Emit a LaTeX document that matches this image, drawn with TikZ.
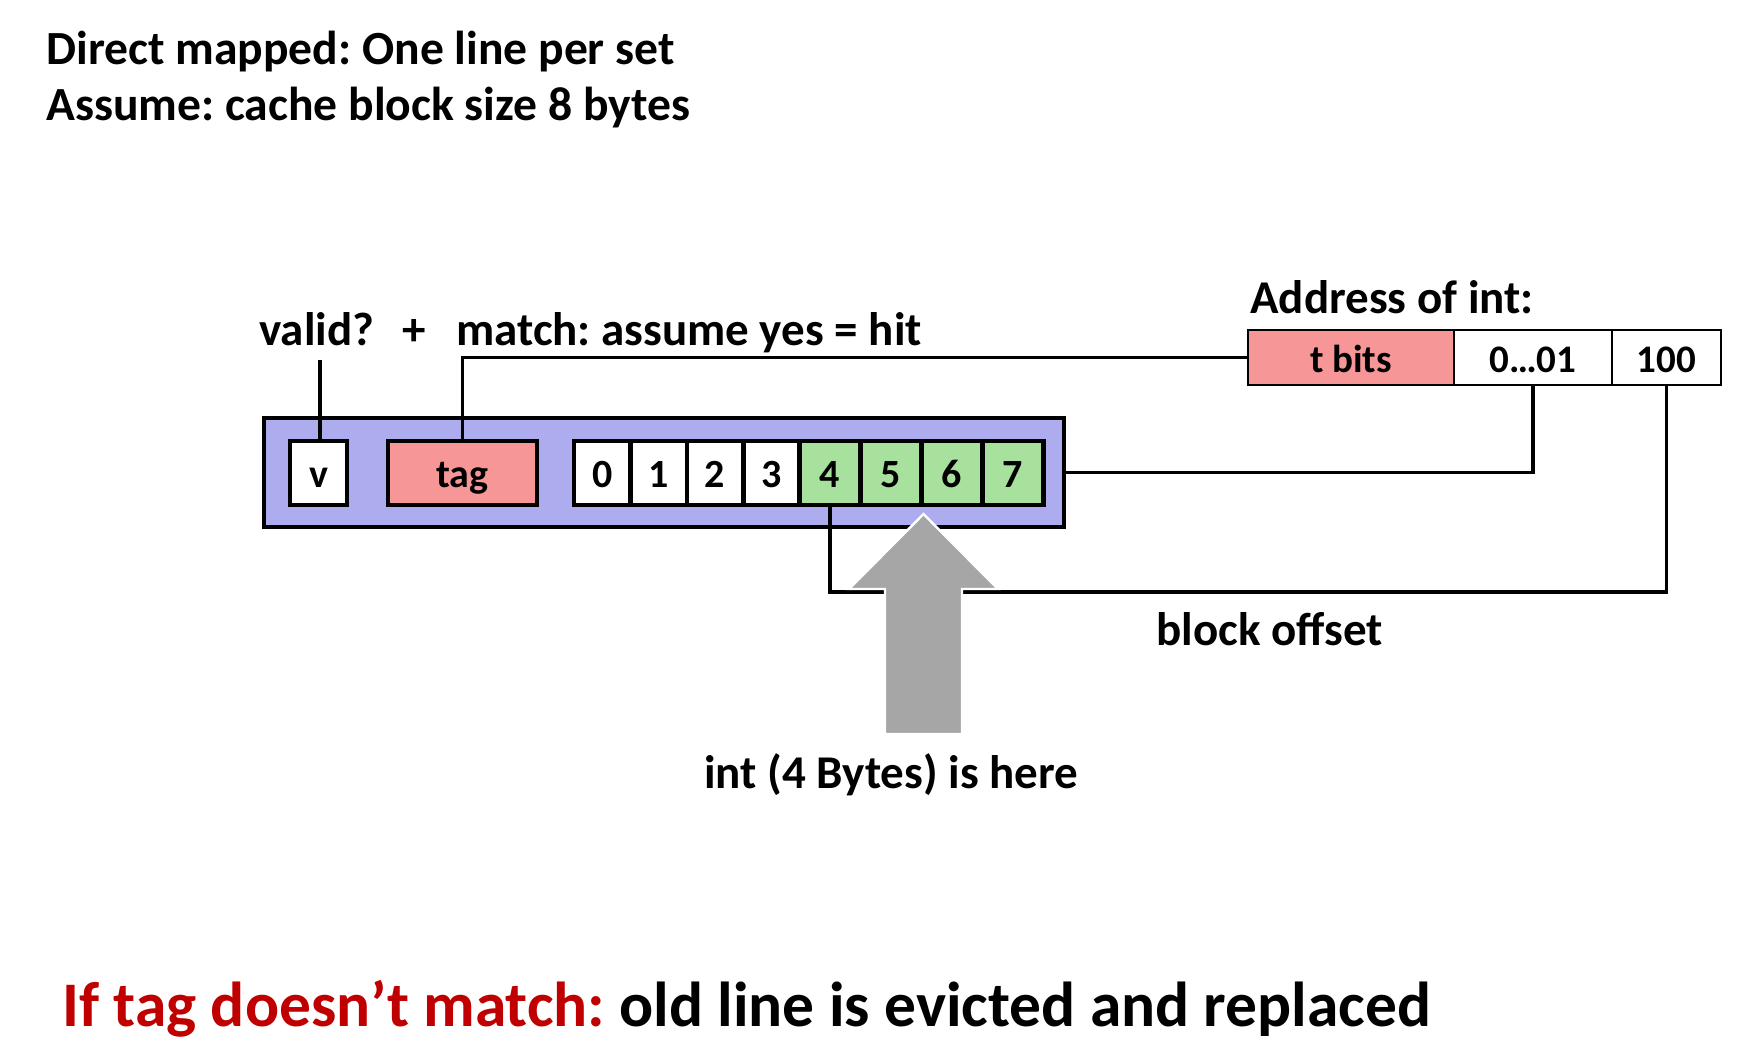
\documentclass[tikz,border=0pt]{standalone}
\usepackage{fontspec}
\setmainfont{Carlito}
\frenchspacing
\definecolor{lineblue}{RGB}{172,172,238}
\definecolor{tagpink}{RGB}{246,150,150}
\definecolor{bytegreen}{RGB}{168,224,158}
\definecolor{arrowgray}{RGB}{166,166,166}
\definecolor{darkred}{RGB}{192,0,0}
\begin{document}
\begin{tikzpicture}[x=0.5pt,y=-0.5pt,
  lbl/.style={inner sep=0pt,anchor=base west,font=\fontsize{23.5}{28}\selectfont\bfseries},
  title/.style={inner sep=0pt,anchor=base west,font=\fontsize{23.8}{28}\selectfont\bfseries},
  cellbox/.style={draw=black,line width=2.3pt,minimum height=32pt,inner sep=0pt,text height=14.5pt,text depth=0pt,font=\fontsize{20}{24}\selectfont\bfseries},
  whitecell/.style={cellbox,fill=white,minimum width=28.2pt},
  greencell/.style={cellbox,fill=bytegreen,minimum width=30.5pt},
  addrbox/.style={draw=black,line width=1.2pt,minimum height=27.5pt,inner sep=0pt,text height=15pt,text depth=0pt,font=\fontsize{19.5}{23}\selectfont\bfseries},
  wire/.style={draw=black,line width=1.8pt}
]
\useasboundingbox (0,0) rectangle (1752,1062);
% titles
\node[title] (t1) at (46,64) {Direct mapped: One line per set};
\node[title] (t2) at (46,120) {Assume: cache block size 8 bytes};
% cache line container
\node[draw=black,line width=2.2pt,fill=lineblue,minimum width=400pt,minimum height=54.5pt,inner sep=0pt] (blue) at (664,472.5) {};
\node[cellbox,fill=white,minimum width=28.5pt] (v) at (318.5,473) {v};
\node[cellbox,fill=tagpink,minimum width=74.5pt] (tag) at (462.5,473) {tag};
\node[whitecell] (c0) at (602.2,473) {0};
\node[whitecell] (c1) at (658.6,473) {1};
\node[whitecell] (c2) at (715.0,473) {2};
\node[whitecell] (c3) at (771.4,473) {3};
\node[greencell] (c4) at (830.1,473) {4};
\node[greencell] (c5) at (891.1,473) {5};
\node[greencell] (c6) at (952.1,473) {6};
\node[greencell] (c7) at (1013.1,473) {7};
% address
\node[lbl] (addr) at (1250,313) {Address of int:};
\node[addrbox,fill=tagpink,minimum width=103pt] (tb) at (1351,357.5) {t bits};
\node[addrbox,fill=white,minimum width=79pt] (mid) at (1533,357.5) {0…01};
\node[addrbox,fill=white,minimum width=54.5pt] (off) at (1666.5,357.5) {100};
% labels
\node[lbl] (valid) at (259,345) {valid?};
\node[lbl] (plus) at (402,345) {+};
\node[lbl] (match) at (456,345) {match: assume yes = hit};
\node[lbl] (boff) at (1156,645) {block offset};
\node[lbl] (here) at (704,788) {int (4 Bytes) is here};
% connectors
\coordinate (vend) at (320,360);
\draw[wire] (v.north -| vend) -- (vend);
\draw[wire] (tag.north) |- (tb.west);
\draw[wire] (blue.east) -| (mid.south);
\coordinate (offy) at (0,592);
\draw[wire] (c4.south) -- (c4.south |- offy) -| (off.south);
% big gray arrow
\path[fill=arrowgray,draw=white,line width=1.2pt]
  (923.5,514) -- (998,589) -- (962,589) -- (962,734) -- (885,734) -- (885,589) -- (849,589) -- cycle;
% bottom line
\node[inner sep=0pt,anchor=base west,font=\fontsize{31.75}{38}\selectfont\bfseries] (bottom) at (62,1026)
  {\textcolor{darkred}{If tag doesn’t match:} old line is evicted and replaced};
\end{tikzpicture}
\end{document}
